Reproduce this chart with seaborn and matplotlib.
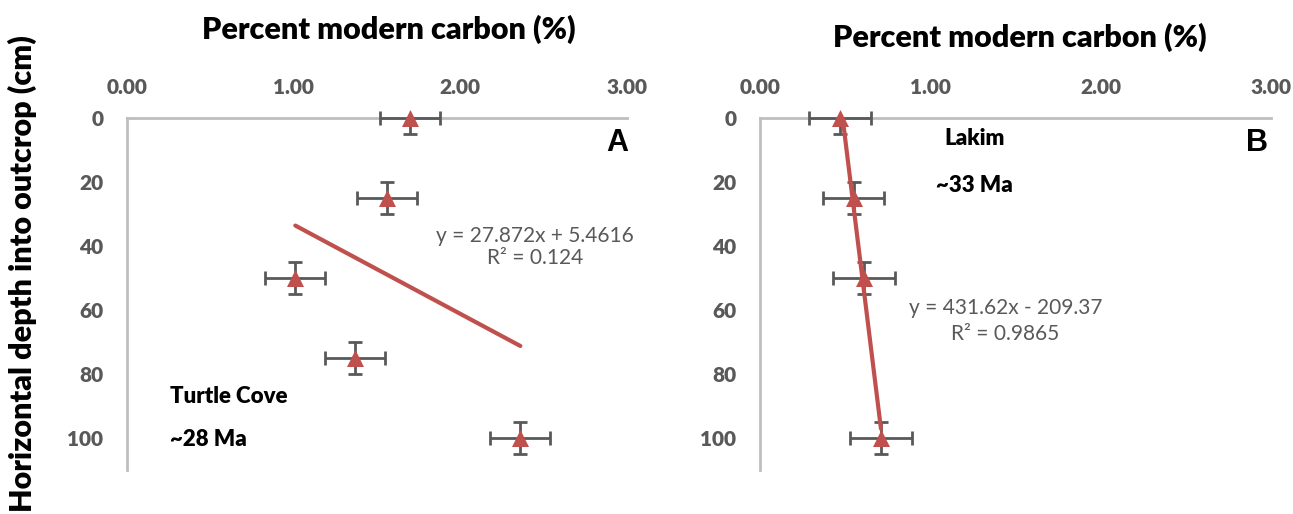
import matplotlib
matplotlib.use("Agg")
import matplotlib.pyplot as plt
import seaborn as sns
import numpy as np
import pandas as pd

# ---- data ----
depth_a = [0, 25, 50, 75, 100]
pmc_a = [1.70, 1.56, 1.01, 1.37, 2.36]
xerr_a = [0.18, 0.18, 0.18, 0.18, 0.18]
yerr_a = [5, 5, 5, 5, 5]

depth_b = [0, 25, 50, 100]
pmc_b = [0.47, 0.55, 0.61, 0.71]
xerr_b = [0.18, 0.18, 0.18, 0.18]
yerr_b = [5, 5, 5, 5]

fit_a = (27.872, 5.4616)
fit_b = (431.62, -209.37)

xticks = [0.0, 1.0, 2.0, 3.0]
xtick_labels = ["0.00", "1.00", "2.00", "3.00"]
yticks = [0, 20, 40, 60, 80, 100]

eq_a = "y = 27.872x + 5.4616"
r2_a = "R² = 0.124"
eq_b = "y = 431.62x - 209.37"
r2_b = "R² = 0.9865"

sns.set_theme(style="white")
plt.rcParams['font.family'] = ['Lato', 'DejaVu Sans']

RED = "#C0504D"
GREY = "#595959"
SPINE = "#BFBFBF"
HEAVY = "heavy"

fig = plt.figure(figsize=(12.93, 5.14), dpi=100)
axA = fig.add_axes([127/1293, 44/514, 500/1293, 352/514])
axB = fig.add_axes([760/1293, 44/514, 511/1293, 352/514])


def style(ax):
    ax.set_xlim(0, 3)
    ax.set_ylim(110, 0)
    ax.xaxis.tick_top()
    ax.set_xticks(xticks)
    ax.set_xticklabels(xtick_labels)
    ax.set_yticks(yticks)
    for lab in ax.get_xticklabels() + ax.get_yticklabels():
        lab.set_fontweight(HEAVY)
        lab.set_color(GREY)
        lab.set_fontsize(15)
    ax.tick_params(axis="y", length=0, pad=17)
    ax.tick_params(axis="x", length=0, pad=15)
    for s in ["right", "bottom"]:
        ax.spines[s].set_visible(False)
    for s in ["left", "top"]:
        ax.spines[s].set_color(SPINE)
        ax.spines[s].set_linewidth(2)
    ax.set_xlabel("")
    ax.set_ylabel("")


def draw(ax, x, y, xe, ye, fit):
    ax.errorbar(x, y, xerr=xe, fmt="none", ecolor=GREY, elinewidth=2,
                capsize=5, capthick=2, clip_on=False, zorder=3)
    ax.errorbar(x, y, yerr=ye, fmt="none", ecolor=GREY, elinewidth=2,
                capsize=5, capthick=2, clip_on=True, zorder=3)
    slope, icpt = fit
    xs = np.array([min(x), max(x)])
    ys = slope * xs + icpt
    dfl = pd.DataFrame({"x": xs, "y": ys})
    sns.lineplot(data=dfl, x="x", y="y", ax=ax, color=RED, linewidth=3,
                 sort=False, zorder=4)
    df = pd.DataFrame({"x": x, "y": y})
    sns.scatterplot(data=df, x="x", y="y", ax=ax, marker="^", s=150,
                    color=RED, edgecolor=RED, linewidth=0, zorder=5,
                    clip_on=False)
    style(ax)


draw(axA, pmc_a, depth_a, xerr_a, yerr_a, fit_a)
draw(axB, pmc_b, depth_b, xerr_b, yerr_b, fit_b)

# axis titles
fig.text(389/1293, 1 - 29/514, "Percent modern carbon (%)", ha="center",
         va="center", fontsize=22, fontweight=HEAVY, color="black")
fig.text(1020/1293, 1 - 37/514, "Percent modern carbon (%)", ha="center",
         va="center", fontsize=22, fontweight=HEAVY, color="black")
fig.text(22/1293, 1 - 274/514, "Horizontal depth into outcrop (cm)",
         ha="center", va="center", rotation=90, fontsize=22,
         fontweight=HEAVY, color="black")

# panel letters
axA.text(1.002, 0.928, "A", transform=axA.transAxes, ha="right", va="center",
         fontsize=22, fontweight="bold", color="black",
         family=["Liberation Sans", "DejaVu Sans"])
axB.text(0.994, 0.928, "B", transform=axB.transAxes, ha="right", va="center",
         fontsize=22, fontweight="bold", color="black",
         family=["Liberation Sans", "DejaVu Sans"])

# site labels
axA.text(0.258, 86.9, "Turtle Cove", ha="left", va="center", fontsize=16,
         fontweight=HEAVY, color="black")
axA.text(0.258, 100.6, "~28 Ma", ha="left", va="center", fontsize=16,
         fontweight=HEAVY, color="black")
axB.text(1.26, 6.3, "Lakim", ha="center", va="center", fontsize=16,
         fontweight=HEAVY, color="black")
axB.text(1.26, 21, "~33 Ma", ha="center", va="center", fontsize=16,
         fontweight=HEAVY, color="black")

# trendline equations
axA.text(2.45, 36.9, eq_a, ha="center", va="center", fontsize=15, color=GREY)
axA.text(2.45, 43.8, r2_a, ha="center", va="center", fontsize=15, color=GREY)
axB.text(1.44, 59.5, eq_b, ha="center", va="center", fontsize=15, color=GREY)
axB.text(1.44, 67.5, r2_b, ha="center", va="center", fontsize=15, color=GREY)

fig.savefig("out.png", dpi=100)
